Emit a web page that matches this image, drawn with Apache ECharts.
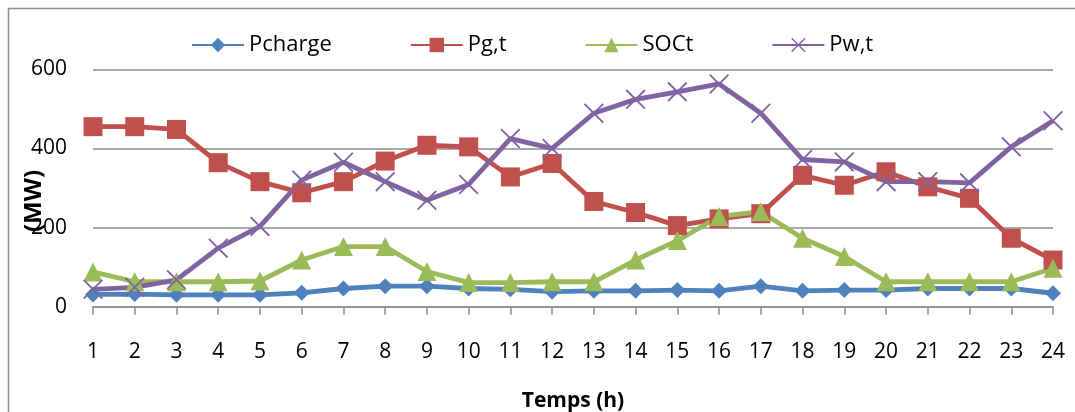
<!DOCTYPE html>
<html>
<head>
<meta charset="utf-8">
<script src="https://cdn.jsdelivr.net/npm/echarts@6/dist/echarts.min.js"></script>
<style>
  html, body { margin: 0; padding: 0; background: #fff; }
  #main { width: 1075px; height: 412px; }
</style>
</head>
<body>
<div id="main"></div>
<script>
// heures 1..24
var hours = [];
for (var h = 1; h <= 24; h++) hours.push(String(h));

var pcharge = [31, 32, 30, 30, 30, 35, 46, 52, 52, 46, 44, 38, 40, 40, 42, 40, 52, 40, 42, 42, 46, 46, 46, 34];
var pgt = [455, 455, 448, 364, 316, 288, 316, 368, 408, 404, 328, 362, 266, 238, 205, 222, 235, 332, 307, 341, 303, 274, 173, 118];
var soct = [88, 63, 63, 63, 65, 118, 152, 152, 89, 61, 61, 63, 63, 118, 167, 228, 240, 173, 127, 63, 63, 63, 63, 97];
var pwt = [44, 49, 68, 148, 203, 320, 365, 316, 269, 309, 425, 400, 489, 524, 543, 563, 489, 372, 366, 316, 316, 313, 404, 470];

var yTicks = [0, 200, 400, 600];

var font = 'Open Sans';
var crossPath = 'path://M0,1.3L1.3,0L20,18.7L18.7,20Z M18.7,0L20,1.3L1.3,20L0,18.7Z';

var myChart = echarts.init(document.getElementById('main'));

function serie(name, data, color, symbol, size) {
    return {
        name: name,
        type: 'line',
        data: data,
        symbol: symbol,
        symbolSize: size,
        showAllSymbol: true,
        animation: false,
        lineStyle: { color: color, width: 4.8 },
        itemStyle: { color: color, borderWidth: 0 }
    };
}

myChart.setOption({
    animation: false,
    textStyle: { fontFamily: font },
    graphic: [
        {
            type: 'rect',
            shape: { x: 8.5, y: 8.5, width: 1200, height: 600 },
            style: { fill: 'none', stroke: '#8c8c8c', lineWidth: 1.5 },
            z: -1
        },
        {
            type: 'text',
            x: 34,
            y: 201,
            rotation: Math.PI / 2,
            style: {
                text: '(MW)',
                font: 'bold 24px ' + font,
                fill: '#000',
                align: 'center',
                verticalAlign: 'middle'
            },
            z: 10
        }
    ],
    legend: {
        top: 29,
        left: 186,
        itemWidth: 52,
        itemHeight: 18,
        itemGap: 78,
        textStyle: { fontSize: 22, color: '#000', fontFamily: font },
        data: ['Pcharge', 'Pg,t', 'SOCt', 'Pw,t']
    },
    grid: { left: 93, right: 22, top: 69.3, bottom: 105.3, containLabel: false, outerBoundsMode: 'none' },
    xAxis: {
        type: 'category',
        data: hours,
        boundaryGap: false,
        name: 'Temps (h)',
        nameLocation: 'middle',
        nameGap: 84,
        nameTextStyle: { fontSize: 21, fontWeight: 'bold', color: '#000', fontFamily: font },
        axisLine: { lineStyle: { color: '#8c8c8c', width: 1.5 } },
        axisTick: { show: true, alignWithLabel: true, length: 8, lineStyle: { color: '#8c8c8c', width: 1.5 } },
        axisLabel: { fontSize: 21, color: '#000', margin: 35, fontFamily: font, interval: 0 },
        splitLine: { show: false }
    },
    yAxis: {
        type: 'value',
        min: yTicks[0],
        max: yTicks[yTicks.length - 1],
        interval: 200,
        axisLine: { show: false },
        axisTick: { show: false },
        axisLabel: { fontSize: 21, color: '#000', margin: 26, fontFamily: font },
        splitLine: { lineStyle: { color: '#8c8c8c', width: 1.5 } }
    },
    series: [
        serie('Pcharge', pcharge, '#4F81BD', 'diamond', 16),
        serie('Pg,t', pgt, '#C0504D', 'rect', 19),
        serie('SOCt', soct, '#9BBB59', 'triangle', 19),
        serie('Pw,t', pwt, '#8064A2', crossPath, 20)
    ]
});
</script>
</body>
</html>
